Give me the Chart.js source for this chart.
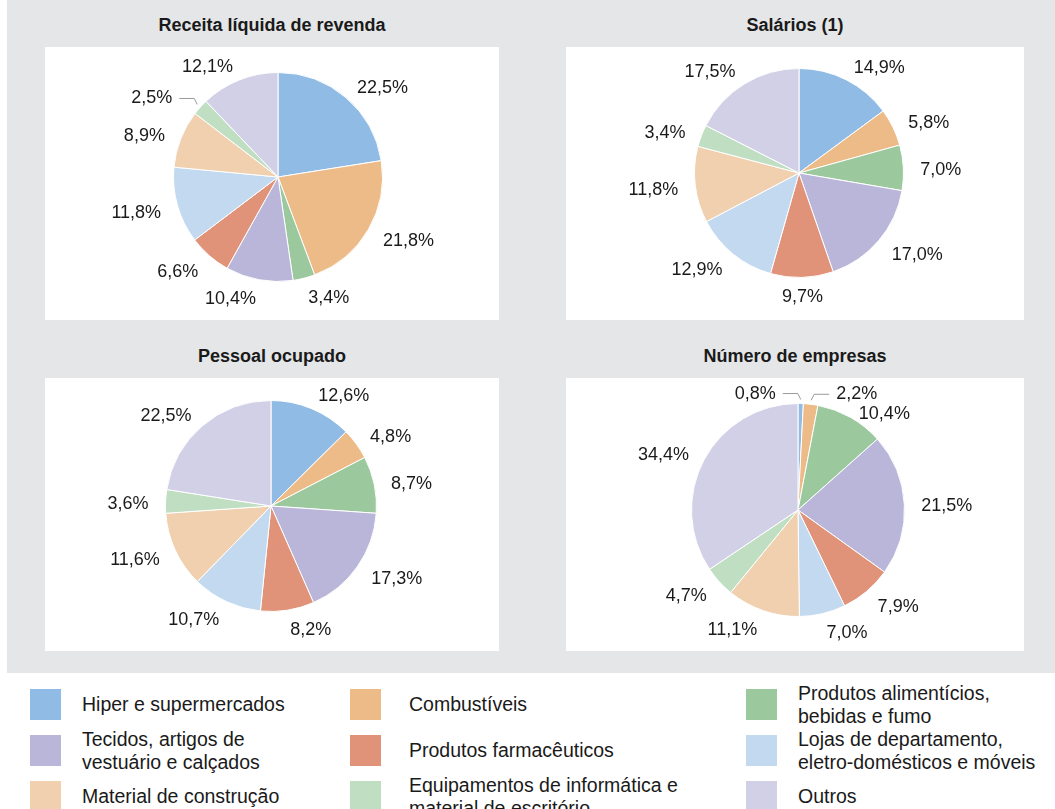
<!DOCTYPE html>
<html lang="pt-BR">
<head>
<meta charset="utf-8">
<title>Distribuição por atividade</title>
<script src="https://cdn.jsdelivr.net/npm/chart.js@4.4.1/dist/chart.umd.min.js"></script>
<style>
  body { margin: 0; width: 1055px; height: 809px; background: #fff; position: relative; overflow: hidden;
         font-family: "Liberation Sans", Arial, sans-serif; color: #1a1a1a; }
  #panel { position: absolute; left: 7px; top: 0; width: 1048px; height: 673px; background: #e5e6e8; }
  .title { position: absolute; font-weight: bold; font-size: 18px; text-align: center; line-height: 22px; }
  .box { position: absolute; background: #fff; }
  .box canvas { display: block; }
  .sw { position: absolute; width: 31px; height: 31px; }
  .lt { position: absolute; font-size: 19.5px; line-height: 23px; white-space: pre-line;
        display: flex; align-items: center; height: 31px; }
</style>
</head>
<body>
<div id="panel"></div>
<div id="charts"></div>
<div id="legend"></div>

<script>
/* ================= DATA ================= */

const categories = [
  "Hiper e supermercados",
  "Combustíveis",
  "Produtos alimentícios,\nbebidas e fumo",
  "Tecidos, artigos de\nvestuário e calçados",
  "Produtos farmacêuticos",
  "Lojas de departamento,\neletro-domésticos e móveis",
  "Material de construção",
  "Equipamentos de informática e\nmaterial de escritório",
  "Outros"
];

const receitaLiquida = [22.5, 21.8, 3.4, 10.4, 6.6, 11.8, 8.9, 2.5, 12.1];
const salarios       = [14.9, 5.8, 7.0, 17.0, 9.7, 12.9, 11.8, 3.4, 17.5];
const pessoalOcupado = [12.6, 4.8, 8.7, 17.3, 8.2, 10.7, 11.6, 3.6, 22.5];
const numeroEmpresas = [0.8, 2.2, 10.4, 21.5, 7.9, 7.0, 11.1, 4.7, 34.4];

const titles = ["Receita líquida de revenda", "Salários (1)", "Pessoal ocupado", "Número de empresas"];

const colors = ["#8fbbe5", "#ecbb87", "#9bc89d", "#bab6d9", "#e09378",
                "#c2d9f0", "#f0d0ae", "#c0dec2", "#d2d0e7"];

/* ================= LAYOUT ================= */

const panels = [
  { data: receitaLiquida, box: [45, 47, 454, 273], pad: { top: 25, bottom: 38, left: 128, right: 116 } },
  { data: salarios,       box: [566, 47, 458, 273], pad: { top: 21, bottom: 42, left: 128, right: 120 } },
  { data: pessoalOcupado, box: [45, 378, 454, 273], pad: { top: 22, bottom: 39, left: 120, right: 122 } },
  { data: numeroEmpresas, box: [566, 378, 458, 273], pad: { top: 25, bottom: 34, left: 119, right: 113 } }
];

/* ================= PERCENT LABELS ================= */

const pctLabels = {
  id: "pctLabels",
  afterDatasetsDraw(chart) {
    const ctx = chart.ctx;
    const values = chart.data.datasets[0].data;
    const placed = [];

    ctx.save();
    ctx.font = '18px "Liberation Sans", Arial, sans-serif';
    ctx.fillStyle = "#1a1a1a";
    ctx.textBaseline = "middle";

    chart.getDatasetMeta(0).data.forEach((arc, i) => {
      const { x, y, startAngle, endAngle, outerRadius } =
        arc.getProps(["x", "y", "startAngle", "endAngle", "outerRadius"], true);
      const a = (startAngle + endAngle) / 2;
      const cos = Math.cos(a), sin = Math.sin(a);
      const txt = values[i].toFixed(1).replace(".", ",") + "%";
      const w = ctx.measureText(txt).width, h = 16;

      let tx, ty, align;
      if (values[i] < 3) {
        // small slice -> leader line
        const side = cos < 0.05 ? -1 : 1;
        const x0 = x + cos * (outerRadius + 4), y0 = y + sin * (outerRadius + 4);
        const x1 = x0 + side * 3, y1 = y0 - 6;
        const x2 = x1 + side * 15;
        ctx.strokeStyle = "#9a9a9a";
        ctx.lineWidth = 1;
        ctx.beginPath();
        ctx.moveTo(x0, y0);
        ctx.lineTo(x1, y1);
        ctx.lineTo(x2, y1);
        ctx.stroke();
        align = side < 0 ? "right" : "left";
        tx = x2 + side * 7;
        ty = y1;
      } else {
        const d = outerRadius + 17;
        align = Math.abs(cos) < 0.15 ? "center" : (cos > 0 ? "left" : "right");
        tx = x + cos * d;
        ty = y + sin * d + 3;
      }

      // box for overlap check
      let left = align === "left" ? tx : align === "right" ? tx - w : tx - w / 2;
      placed.forEach(b => {
        const overlapX = left < b.left + b.w && left + w > b.left;
        const overlapY = ty - h / 2 < b.ty + h / 2 && ty + h / 2 > b.ty - h / 2;
        if (overlapX && overlapY) ty = b.ty + h + 4;
      });
      placed.push({ left, w, ty });

      ctx.textAlign = align;
      ctx.fillText(txt, tx, ty);
    });
    ctx.restore();
  }
};

/* ================= CHARTS ================= */

const holder = document.getElementById("charts");

panels.forEach((p, k) => {
  const [bx, by, bw, bh] = p.box;

  const t = document.createElement("div");
  t.className = "title";
  t.style.left = bx + "px";
  t.style.width = bw + "px";
  t.style.top = (by - 33) + "px";
  t.textContent = titles[k];
  holder.appendChild(t);

  const box = document.createElement("div");
  box.className = "box";
  box.style.left = bx + "px";
  box.style.top = by + "px";
  box.style.width = bw + "px";
  box.style.height = bh + "px";
  const cv = document.createElement("canvas");
  cv.width = bw;
  cv.height = bh;
  box.appendChild(cv);
  holder.appendChild(box);

  new Chart(cv.getContext("2d"), {
    type: "pie",
    data: {
      labels: categories,
      datasets: [{
        data: p.data,
        backgroundColor: colors,
        borderColor: "#ffffff",
        borderWidth: 1
      }]
    },
    options: {
      responsive: false,
      animation: false,
      layout: { padding: p.pad },
      plugins: { legend: { display: false }, tooltip: { enabled: false } }
    },
    plugins: [pctLabels]
  });
});

/* ================= LEGEND ================= */

const legend = document.getElementById("legend");
const colSw = [30, 350, 746];
const colTx = [82, 409, 798];
const rowTop = [689, 735, 781];

categories.forEach((name, i) => {
  const r = Math.floor(i / 3), c = i % 3;
  const sw = document.createElement("div");
  sw.className = "sw";
  sw.style.left = colSw[c] + "px";
  sw.style.top = rowTop[r] + "px";
  sw.style.background = colors[i];
  legend.appendChild(sw);

  const tx = document.createElement("div");
  tx.className = "lt";
  tx.style.left = colTx[c] + "px";
  tx.style.top = rowTop[r] + "px";
  tx.textContent = name;
  legend.appendChild(tx);
});
</script>
</body>
</html>
